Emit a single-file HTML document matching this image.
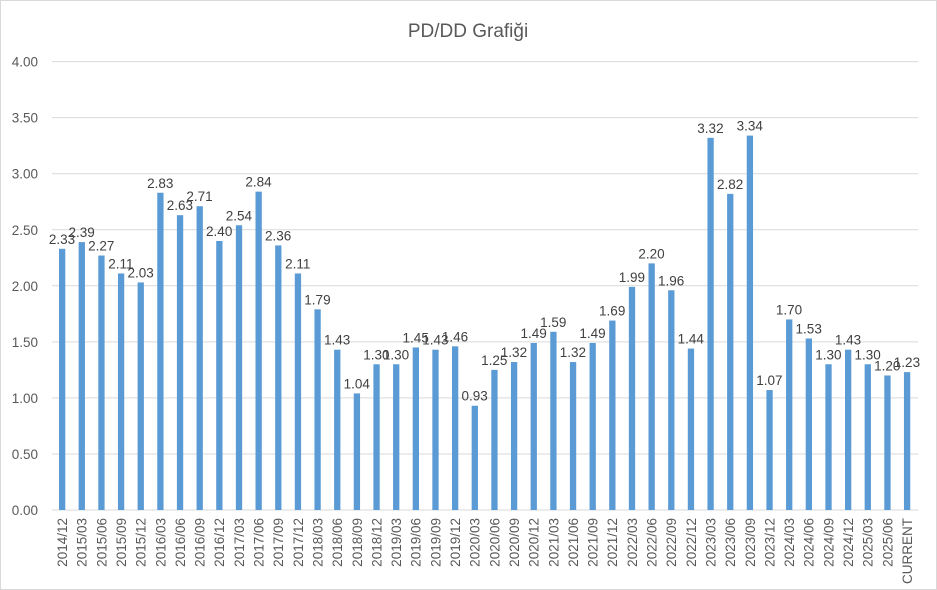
<!DOCTYPE html>
<html><head><meta charset="utf-8"><style>
body{margin:0;background:#fff}
svg{display:block;font-family:"Liberation Sans",sans-serif}
</style></head><body>
<svg id="s" width="937" height="590" viewBox="0 0 937 590">
<rect x="0.5" y="0.5" width="936" height="589" fill="#fff" stroke="#d9d9d9"/>
<text x="468" y="37" font-size="19" fill="#595959" text-anchor="middle">PD/DD Grafiği</text>
<g id="g"></g>
</svg>
<script>
var v=[2.33,2.39,2.27,2.11,2.03,2.83,2.63,2.71,2.40,2.54,2.84,2.36,2.11,1.79,1.43,1.04,1.30,1.30,1.45,1.43,1.46,0.93,1.25,1.32,1.49,1.59,1.32,1.49,1.69,1.99,2.20,1.96,1.44,3.32,2.82,3.34,1.07,1.70,1.53,1.30,1.43,1.30,1.20,1.23];
var l=["2014/12"];for(var y=2015;y<=2024;y++)["03","06","09","12"].forEach(function(m){l.push(y+"/"+m)});l.push("2025/03","2025/06","CURRENT");
var h="";
function Y(a){return 510-a*112.1}
for(var i=0;i<=8;i++){var a=i*0.5,yy=Y(a);h+='<line x1="52" x2="918" y1="'+yy+'" y2="'+yy+'" stroke="#d9d9d9" stroke-width="1"/>';h+='<text x="38" y="'+(yy+5)+'" font-size="13.5" fill="#595959" text-anchor="end">'+a.toFixed(2)+'</text>';}
for(var i=0;i<v.length;i++){var c=62+i*19.65,t=Y(v[i]);
h+='<rect x="'+(c-3)+'" y="'+t+'" width="6.3" height="'+(510-t)+'" fill="#5b9bd5"/>';
h+='<text x="'+c+'" y="'+(t-5)+'" font-size="13.5" fill="#404040" text-anchor="middle">'+v[i].toFixed(2)+'</text>';
h+='<text transform="translate('+(c+5)+',518) rotate(-90)" font-size="13.5" fill="#595959" text-anchor="end">'+l[i]+'</text>';}
document.getElementById("g").innerHTML=h;
</script>
</body></html>
